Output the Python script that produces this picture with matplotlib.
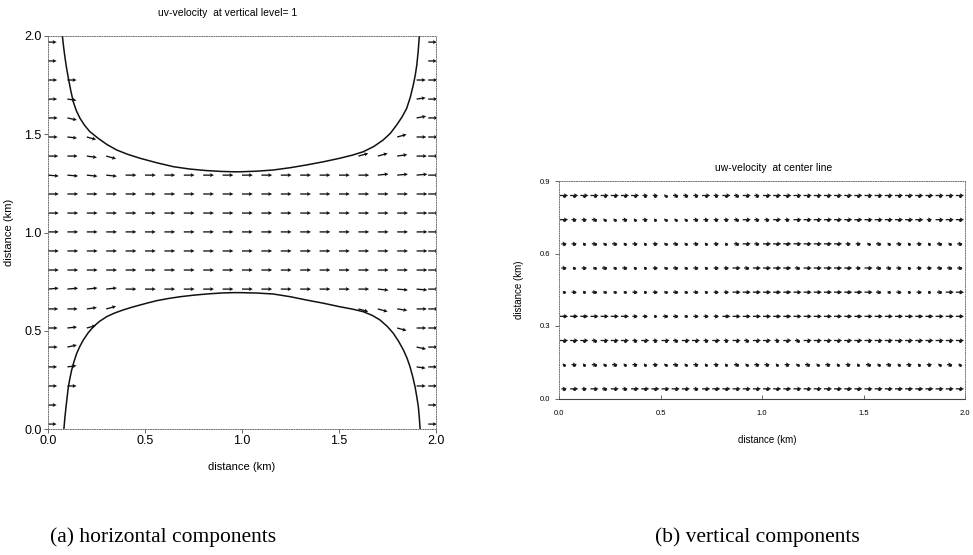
import numpy as np
import matplotlib
matplotlib.use("Agg")
import matplotlib.pyplot as plt

plt.rcParams['font.family'] = ['Liberation Sans', 'DejaVu Sans']

# ---------------- panel (a): uv-velocity at vertical level 1 ----------------
# coastlines of the two headlands (km)
coast_top_x = [0.074, 0.081, 0.088, 0.096, 0.105, 0.117, 0.130, 0.146, 0.165, 0.189,
               0.216, 0.259, 0.305, 0.354, 0.410, 0.474, 0.560, 0.646, 0.730, 0.818,
               0.890, 0.954, 0.990, 1.075, 1.161, 1.250, 1.334, 1.420, 1.505, 1.570,
               1.625, 1.680, 1.728, 1.765, 1.797, 1.825, 1.849, 1.868, 1.883, 1.893,
               1.901, 1.908, 1.914]
coast_top_y = [2.000, 1.940, 1.887, 1.835, 1.785, 1.724, 1.666, 1.620, 1.581, 1.545,
               1.513, 1.479, 1.447, 1.420, 1.398, 1.378, 1.355, 1.335, 1.323, 1.315,
               1.311, 1.309, 1.309, 1.312, 1.318, 1.330, 1.344, 1.360, 1.378, 1.394,
               1.411, 1.438, 1.471, 1.505, 1.547, 1.588, 1.632, 1.690, 1.751, 1.800,
               1.852, 1.920, 2.000]
coast_bot_x = [0.082, 0.087, 0.093, 0.099, 0.105, 0.113, 0.122, 0.134, 0.148, 0.164,
               0.182, 0.206, 0.234, 0.266, 0.303, 0.343, 0.388, 0.430, 0.474, 0.516,
               0.560, 0.620, 0.680, 0.750, 0.818, 0.890, 0.955, 0.990, 1.075, 1.161,
               1.250, 1.334, 1.420, 1.505, 1.570, 1.625, 1.672, 1.711, 1.748, 1.780,
               1.808, 1.832, 1.851, 1.866, 1.880, 1.892, 1.901, 1.909, 1.914, 1.918]
coast_bot_y = [0.000, 0.058, 0.113, 0.165, 0.215, 0.258, 0.300, 0.343, 0.385, 0.420,
               0.453, 0.488, 0.521, 0.548, 0.572, 0.590, 0.606, 0.619, 0.631, 0.642,
               0.653, 0.664, 0.673, 0.681, 0.687, 0.692, 0.694, 0.694, 0.692, 0.687,
               0.673, 0.656, 0.640, 0.622, 0.610, 0.597, 0.578, 0.555, 0.523, 0.487,
               0.445, 0.402, 0.360, 0.317, 0.266, 0.215, 0.164, 0.113, 0.058, 0.000]

# velocity grid (arrow tails, km)
grid_x = [0.0, 0.1, 0.2, 0.3, 0.4, 0.5, 0.6, 0.7, 0.8, 0.9, 1.0,
          1.1, 1.2, 1.3, 1.4, 1.5, 1.6, 1.7, 1.8, 1.9, 1.96]
grid_y = [0.025, 0.122, 0.219, 0.316, 0.417, 0.514, 0.611, 0.712, 0.809, 0.906,
          1.003, 1.099, 1.196, 1.292, 1.389, 1.486, 1.583, 1.679, 1.776, 1.873, 1.969]
# number of wet points counted from the west and east boundary of each row
wet_west = [1, 1, 2, 2, 2, 3, 4, 21, 21, 21, 21, 21, 21, 21, 4, 3, 2, 2, 2, 1, 1]
wet_east = [1, 1, 2, 2, 2, 3, 5, 21, 21, 21, 21, 21, 21, 21, 5, 3, 2, 2, 2, 1, 1]
# speed per row (relative)
row_speed = [0.8, 0.8, 0.85, 0.85, 0.9, 0.9, 0.95, 1.0, 1.0, 1.0, 1.0,
             1.0, 1.0, 1.0, 0.95, 0.9, 0.9, 0.85, 0.85, 0.8, 0.8]
# flow direction (deg) of the arrows that deviate from due east: (row, col) -> angle
flow_dir = {
    (13, 0): -5, (13, 1): -5, (13, 2): -6, (13, 3): -6,
    (14, 2): -8, (14, 3): -15, (15, 1): -6, (15, 2): -15, (16, 1): -12, (17, 1): -8,
    (13, 17): 6, (13, 18): 5, (13, 19): 5,
    (14, 16): 15, (14, 17): 15, (14, 18): 8, (15, 18): 15, (16, 19): 10, (17, 19): 8,
    (7, 0): 5, (7, 1): 5, (7, 2): 6, (7, 3): 6,
    (6, 2): 8, (6, 3): 15, (5, 1): 6, (5, 2): 15, (4, 1): 12, (3, 1): 8,
    (7, 17): -6, (7, 18): -5, (7, 19): -5,
    (6, 16): -15, (6, 17): -15, (6, 18): -8, (5, 18): -15, (4, 19): -12, (3, 19): -8,
}

# ---------------- panel (b): uw-velocity along the centre line ----------------
sect_x = [0.025 + 0.05 * k for k in range(40)]
sect_z = [0.04, 0.14, 0.24, 0.34, 0.44, 0.54, 0.64, 0.74, 0.84]
# along-channel speed per level (relative units, west -> east)
sect_u = [
    "2323232333333233333333333333333333333333",  # 0.04
    "1212121212121212121221212121212121212121",  # 0.14
    "3332333232323323232332323333333333333333",  # 0.24
    "3333333221221222333333333333333333333333",  # 0.34
    "1212111212121212233333333333333212121233",  # 0.44
    "2121212112121212232333323333323222122222",  # 0.54
    "2212121212121212123233333333221212121212",  # 0.64
    "3222112121111222223223233333333333332333",  # 0.74
    "3333333322122232323233333333333333333333",  # 0.84
]

W, H = 973, 555
fig = plt.figure(figsize=(W / 100, H / 100), dpi=100)

spine_kw = dict(linestyle=(0, (1, 1.5)), linewidth=0.7, color='0.45')

# ---------- (a) ----------
ax = fig.add_axes([48 / W, 1 - 429 / H, 388 / W, 393 / H])
ax.set_xlim(0, 2)
ax.set_ylim(0, 2)
X, Y, U, V = [], [], [], []
for r, y in enumerate(grid_y):
    ncol = len(grid_x)
    cols = set(range(min(wet_west[r], ncol))) | set(range(ncol - min(wet_east[r], ncol), ncol))
    for c in sorted(cols):
        ang = np.deg2rad(flow_dir.get((r, c), 0.0))
        X.append(grid_x[c])
        Y.append(y)
        U.append(row_speed[r] * np.cos(ang))
        V.append(row_speed[r] * np.sin(ang))
ax.quiver(X, Y, U, V, angles='xy', scale_units='xy', scale=18, pivot='tail',
          width=0.0034, headwidth=3.0, headlength=3.0, headaxislength=2.6,
          color='#111111')
ax.plot(coast_top_x, coast_top_y, color='#111111', lw=1.1)
ax.plot(coast_bot_x, coast_bot_y, color='#111111', lw=1.1)
ax.set_xticks([0.0, 0.5, 1.0, 1.5, 2.0])
ax.set_yticks([0.0, 0.5, 1.0, 1.5, 2.0])
ax.xaxis.set_major_formatter(matplotlib.ticker.FormatStrFormatter('%.1f'))
ax.yaxis.set_major_formatter(matplotlib.ticker.FormatStrFormatter('%.1f'))
ax.tick_params(labelsize=9, length=3, width=0.6, pad=1.5, color='0.3')
for s in ax.spines.values():
    s.set(**spine_kw)
ax.set_xlabel('distance (km)', fontsize=8)
ax.xaxis.set_label_coords(0.5, -0.085)
ax.set_ylabel('distance (km)', fontsize=8)
ax.yaxis.set_label_coords(-0.088, 0.5)
fig.text(228 / W, 1 - 13 / H, 'uv-velocity  at vertical level= 1', fontsize=7.5,
         ha='center', va='center')

# ---------- (b) ----------
bx = fig.add_axes([559 / W, 1 - 398.5 / H, 406 / W, 217.5 / H])
bx.set_xlim(0, 2)
bx.set_ylim(0, 0.9)
XB, ZB, UB = [], [], []
for z, row in zip(sect_z, sect_u):
    for x, ch in zip(sect_x, row):
        XB.append(x)
        ZB.append(z)
        UB.append(int(ch))
UB = np.array(UB, dtype=float)
bx.quiver(XB, ZB, UB, np.zeros_like(UB), angles='xy', scale_units='xy', scale=75,
          pivot='middle', width=0.0032, headwidth=3.5, headlength=3.2,
          headaxislength=2.8, color='#1a1a1a')
bx.plot(XB, ZB, linestyle='none', marker='.', ms=2.2, color='#1a1a1a')
bx.set_xticks([0.0, 0.5, 1.0, 1.5, 2.0])
bx.set_yticks([0.0, 0.3, 0.6, 0.9])
bx.xaxis.set_major_formatter(matplotlib.ticker.FormatStrFormatter('%.1f'))
bx.yaxis.set_major_formatter(matplotlib.ticker.FormatStrFormatter('%.1f'))
bx.tick_params(labelsize=5.5, length=3, width=0.6, color='0.3')
bx.tick_params(axis='x', direction='in', pad=8)
for name, s in bx.spines.items():
    s.set(**spine_kw)
bx.spines['bottom'].set(linestyle='-', linewidth=0.8, color='0.25')
bx.set_xlabel('distance (km)', fontsize=7)
bx.xaxis.set_label_coords(0.512, -0.17)
bx.set_ylabel('distance (km)', fontsize=7)
bx.yaxis.set_label_coords(-0.085, 0.5)
fig.text(774 / W, 1 - 168 / H, 'uw-velocity  at center line', fontsize=7.5,
         ha='center', va='center')

# ---------- captions ----------
cap_kw = dict(fontsize=15.5, family=['Liberation Serif', 'DejaVu Serif'],
              ha='left', va='center')
fig.text(50 / W, 1 - 537 / H, '(a) horizontal components', **cap_kw)
fig.text(655 / W, 1 - 537 / H, '(b) vertical components', **cap_kw)

fig.savefig('out.png', dpi=100)
